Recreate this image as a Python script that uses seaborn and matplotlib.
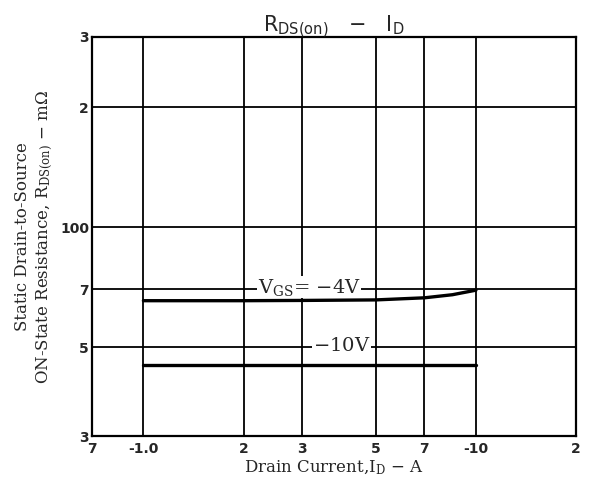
import numpy as np
import pandas as pd
import seaborn as sns
import matplotlib.pyplot as plt
from matplotlib.ticker import NullLocator

# Data (|I_D| in A, R_DS(on) in mOhm)
id_vgs4 = [1.0, 2.0, 3.0, 5.0, 7.0, 8.5, 10.0]
r_vgs4 = [65.5, 65.5, 65.6, 65.8, 66.6, 67.8, 69.6]
id_vgs10 = [1.0, 2.0, 5.0, 10.0]
r_vgs10 = [45.2, 45.2, 45.2, 45.2]

x_ticks = [0.7, 1, 2, 3, 5, 7, 10, 20]
x_labels = ["7", "-1.0", "2", "3", "5", "7", "-10", "2"]
y_ticks = [30, 50, 70, 100, 200, 300]
y_labels = ["3", "5", "7", "100", "2", "3"]

df = pd.concat([
    pd.DataFrame({"ID": id_vgs4, "R": r_vgs4, "VGS": "-4V"}),
    pd.DataFrame({"ID": id_vgs10, "R": r_vgs10, "VGS": "-10V"}),
])

sns.set_style("white")
plt.rcParams["font.family"] = ["DejaVu Sans"]
plt.rcParams["mathtext.fontset"] = "dejavuserif"

fig = plt.figure(figsize=(5.89, 4.92), dpi=100)
ax = fig.add_axes([0.156, 0.1138, 0.822, 0.811])

sns.lineplot(data=df, x="ID", y="R", hue="VGS", palette=["black", "black"],
             linewidth=2.4, legend=False, ax=ax, estimator=None, sort=True)

ax.set_xscale("log")
ax.set_yscale("log")
ax.set_xlim(0.7, 20)
ax.set_ylim(30, 300)

# grid lines
for xv in x_ticks:
    ax.axvline(xv, color="black", lw=1.3, zorder=1)
for yv in y_ticks:
    ax.axhline(yv, color="black", lw=1.3, zorder=1)

ax.xaxis.set_minor_locator(NullLocator())
ax.yaxis.set_minor_locator(NullLocator())
ax.set_xticks(x_ticks)
ax.set_xticklabels(x_labels, fontsize=10, fontweight="bold")
ax.set_yticks(y_ticks)
ax.set_yticklabels(y_labels, fontsize=10, fontweight="bold")
ax.tick_params(axis="x", length=0, pad=4)
ax.tick_params(axis="y", length=0, pad=2)
for s in ax.spines.values():
    s.set_color("black")
    s.set_linewidth(1.6)

serif = ["DejaVu Serif"]
ax.text(3.15, 70.8, r"$\mathrm{V_{GS}}$= $-$4V", family=serif, fontsize=14,
        ha="center", va="center", zorder=3,
        bbox=dict(facecolor="white", edgecolor="none", pad=0.5))
ax.text(3.95, 50.5, r"$-$10V", family=serif, fontsize=14,
        ha="center", va="center", zorder=3,
        bbox=dict(facecolor="white", edgecolor="none", pad=0.5))

ax.set_xlabel(r"Drain Current,$\mathrm{I_D}$ $-$ A", family=serif, fontsize=12, labelpad=2)
ax.set_ylabel("Static Drain-to-Source\n" + r"ON-State Resistance, $\mathrm{R_{DS(on)}}$ $-$ m$\Omega$",
              family=serif, fontsize=12, labelpad=4)
ax.set_title(r"$\mathsf{R_{DS(on)}}$   $\mathsf{-}$   $\mathsf{I_D}$", fontsize=15, pad=4)

fig.savefig("out.png", dpi=100)
